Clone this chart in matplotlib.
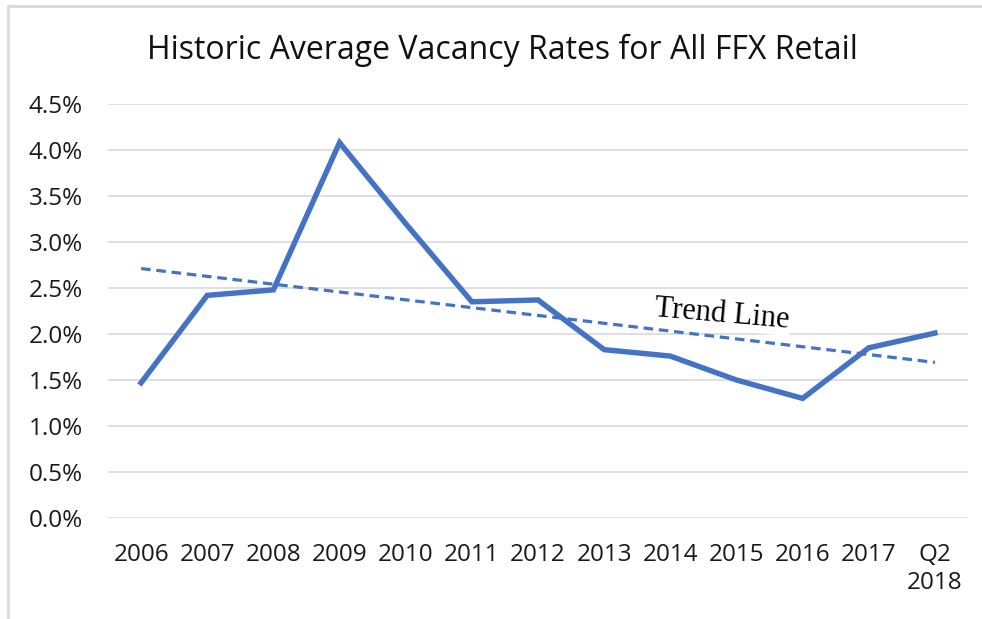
import numpy as np
import matplotlib.pyplot as plt
from matplotlib.patches import Rectangle

years = ["2006", "2007", "2008", "2009", "2010", "2011", "2012",
         "2013", "2014", "2015", "2016", "2017", "Q2\n2018"]
vacancy = [1.47, 2.42, 2.48, 4.08, 3.20, 2.35, 2.37,
           1.83, 1.76, 1.50, 1.30, 1.85, 2.01]

plt.rcParams['font.family'] = ['Open Sans', 'DejaVu Sans']

W, H = 982, 619
fig = plt.figure(figsize=(W / 100, H / 100), dpi=100)
ax = fig.add_axes([108 / W, 101 / H, 860 / W, 414 / H])

# chart frame, only top and left edges show in the crop
fig.patches.append(Rectangle((8 / W, -0.1), 1.2, 1.1 - 6 / H,
                             transform=fig.transFigure, fill=False,
                             edgecolor="#D9D9D9", linewidth=2))

x = np.arange(len(years))
ax.plot(x, vacancy, color="#4472C4", linewidth=3.9, solid_joinstyle="miter")

# linear trend line (least squares), as Excel draws it
slope, intercept = np.polyfit(x, vacancy, 1)
ax.plot(x, slope * x + intercept, color="#4472C4", linewidth=2.3,
        linestyle=(0, (3, 1.8)))

ax.text(722 / W, 1 - 314 / H, "Trend Line", transform=fig.transFigure,
        family="Liberation Serif", fontsize=22, rotation=-5,
        ha="center", va="center",
        bbox=dict(facecolor="white", edgecolor="none", pad=1))

ax.set_xlim(-0.5, len(years) - 0.5)
ax.set_ylim(0, 4.5)
ax.set_yticks(np.arange(0, 4.51, 0.5))
ax.set_yticklabels([f"{v:.1f}%" for v in np.arange(0, 4.51, 0.5)])
ax.set_xticks(x)
ax.set_xticklabels(years)
ax.yaxis.grid(True, color="#D9D9D9", linewidth=1.2)
ax.set_axisbelow(True)
for s in ax.spines.values():
    s.set_visible(False)
ax.tick_params(length=0, labelsize=17.5, colors="#1a1a1a")
ax.tick_params(axis="y", pad=18)
ax.tick_params(axis="x", pad=18)

fig.text(502 / W, 1 - 50 / H, "Historic Average Vacancy Rates for All FFX Retail",
         ha="center", va="center", fontsize=23, color="#111111")

plt.savefig("out.png", dpi=100)
